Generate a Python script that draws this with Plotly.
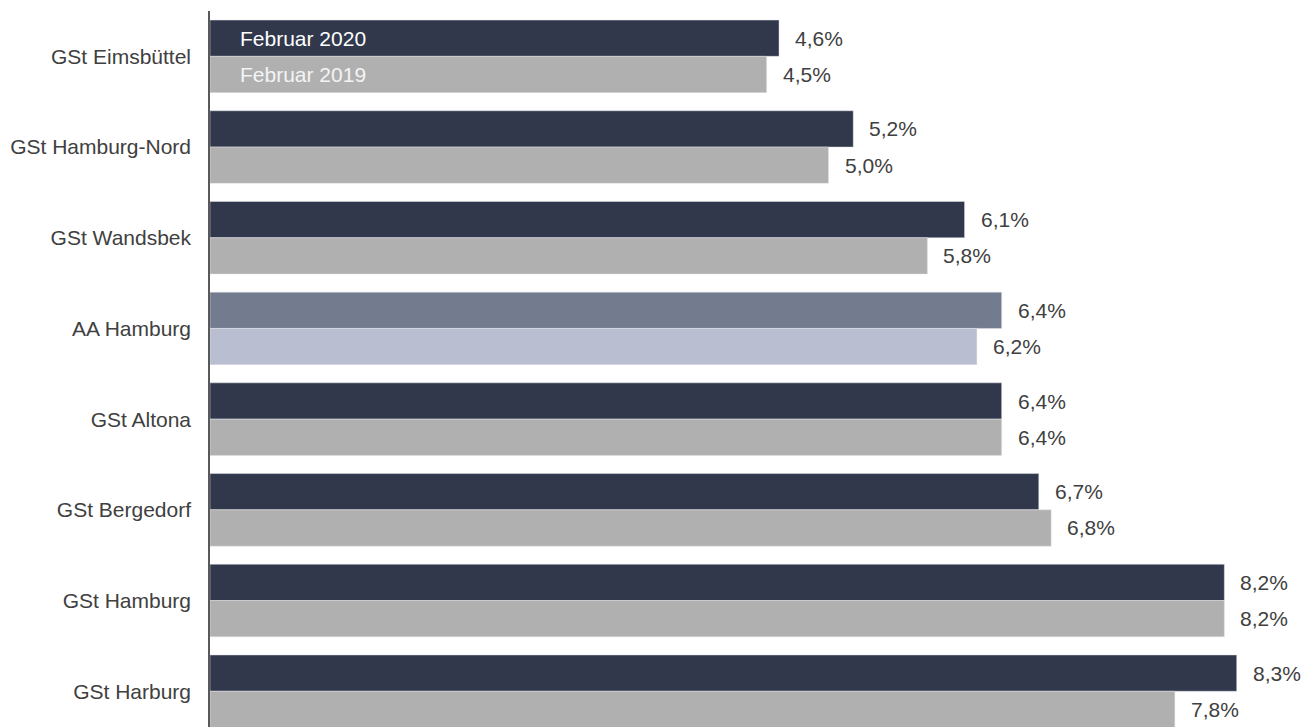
import plotly.graph_objects as go

categories = ["GSt Eimsbüttel", "GSt Hamburg-Nord", "GSt Wandsbek", "AA Hamburg",
              "GSt Altona", "GSt Bergedorf", "GSt Hamburg", "GSt Harburg"]
values_2020 = [4.6, 5.2, 6.1, 6.4, 6.4, 6.7, 8.2, 8.3]
values_2019 = [4.5, 5.0, 5.8, 6.2, 6.4, 6.8, 8.2, 7.8]
series_names = ["Februar 2020", "Februar 2019"]

DARK = "#31384c"
GRAY = "#b0b0b0"
HL_DARK = "#737b8e"
HL_LIGHT = "#b9bfd1"
TEXT = "#404040"
FONT = "Liberation Sans, Arial, sans-serif"

colors_2020 = [HL_DARK if c == "AA Hamburg" else DARK for c in categories]
colors_2019 = [HL_LIGHT if c == "AA Hamburg" else GRAY for c in categories]

def fmt(v):
    return f"{v:.1f}".replace(".", ",") + "%"

fig = go.Figure()
fig.add_trace(go.Bar(y=categories, x=values_2020, orientation="h", name=series_names[0],
                     marker=dict(color=colors_2020, line=dict(width=0.6, color="rgba(230,230,235,0.8)")),
                     hoverinfo="skip"))
fig.add_trace(go.Bar(y=categories, x=values_2019, orientation="h", name=series_names[1],
                     marker=dict(color=colors_2019, line=dict(width=0.6, color="rgba(230,230,235,0.8)")),
                     hoverinfo="skip"))

W, H = 1316, 727
L, R, T, B = 210, 20, 11, 0
px_per_unit = 123.7
pitch = 90.7
xmax = (W - L - R) / px_per_unit
ymax_span = (H - T - B) / pitch
half = pitch * 0.8 / 4  # half of a single bar height in px

annotations = []
for c, v in zip(categories, values_2020):
    annotations.append(dict(x=v, y=c, text=fmt(v), xanchor="left", yanchor="middle",
                            xshift=14, yshift=half, showarrow=False,
                            font=dict(size=21, color=TEXT, family=FONT)))
for c, v in zip(categories, values_2019):
    annotations.append(dict(x=v, y=c, text=fmt(v), xanchor="left", yanchor="middle",
                            xshift=14, yshift=-half, showarrow=False,
                            font=dict(size=21, color=TEXT, family=FONT)))
# in-bar legend labels on the first category
annotations.append(dict(x=0, y=categories[0], text=series_names[0], xanchor="left", yanchor="middle",
                        xshift=28, yshift=half, showarrow=False,
                        font=dict(size=21, color="#ffffff", family=FONT)))
annotations.append(dict(x=0, y=categories[0], text=series_names[1], xanchor="left", yanchor="middle",
                        xshift=28, yshift=-half, showarrow=False,
                        font=dict(size=21, color="#f4f4f4", family=FONT)))

fig.update_layout(
    width=W, height=H,
    margin=dict(l=L, r=R, t=T, b=B, pad=0, autoexpand=False),
    barmode="group", bargap=0.2, bargroupgap=0,
    plot_bgcolor="white", paper_bgcolor="white",
    showlegend=False,
    font=dict(family=FONT, size=21, color=TEXT),
    annotations=annotations,
    xaxis=dict(range=[0, xmax], showgrid=False, zeroline=False, showticklabels=False,
               showline=False, ticks="", fixedrange=True, automargin=False),
    yaxis=dict(type="category", categoryorder="array", categoryarray=categories,
               range=[-0.5 + ymax_span, -0.5], showgrid=False, zeroline=False,
               showline=True, linecolor="#595959", linewidth=1.5, ticks="",
               ticklabelstandoff=13, tickfont=dict(size=21, color=TEXT, family=FONT),
               fixedrange=True, automargin=False),
)

fig.write_html("out.html", config={"displayModeBar": False},
               post_script="document.body.style.margin='0px';document.body.style.overflow='hidden';")
